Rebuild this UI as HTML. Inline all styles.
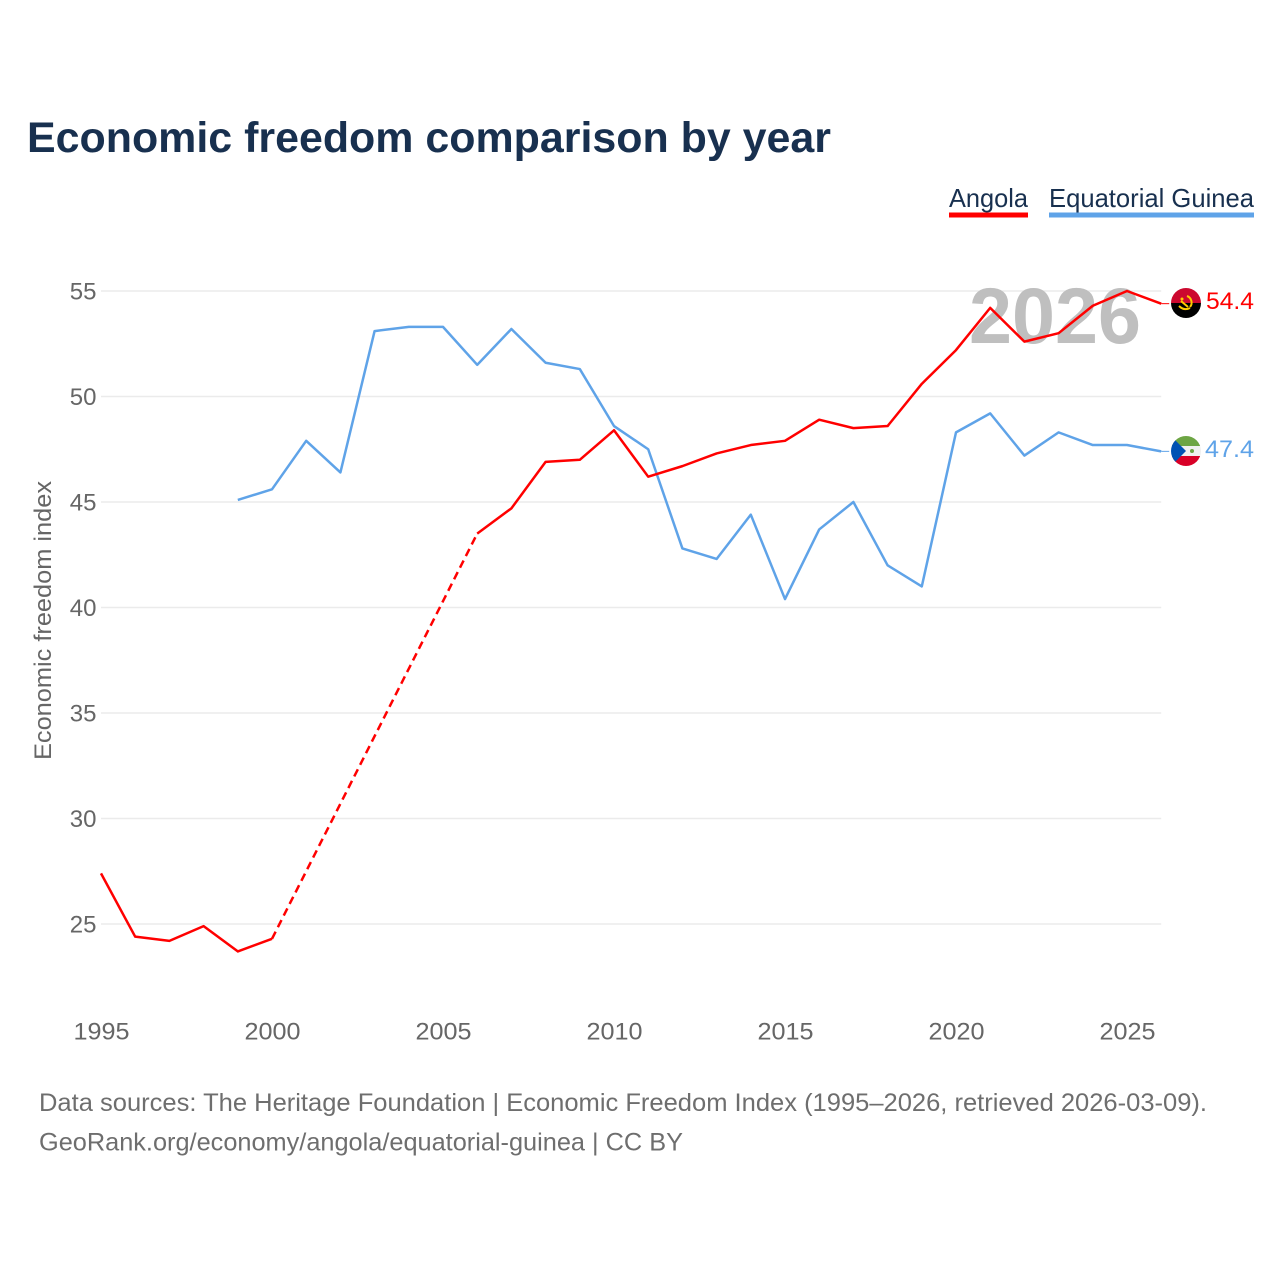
<!DOCTYPE html>
<html>
<head>
<meta charset="utf-8">
<title>Economic freedom comparison by year</title>
<style>
html,body{margin:0;padding:0;background:#fff;width:1280px;height:1280px;overflow:hidden}
svg{display:block;font-family:"Liberation Sans",sans-serif}
</style>
</head>
<body>
<svg id="chart" width="1280" height="1280" viewBox="0 0 1280 1280" xmlns="http://www.w3.org/2000/svg">
  <defs>
    <clipPath id="flag-clip-a"><circle cx="1186" cy="303" r="15"/></clipPath>
    <clipPath id="flag-clip-b"><circle cx="1186" cy="451" r="15"/></clipPath>
  </defs>
  <text x="27" y="152" font-size="43" font-weight="700" fill="#18304f" textLength="804" lengthAdjust="spacingAndGlyphs">Economic freedom comparison by year</text>

  <g>
    <g>
      <text x="949" y="207" font-size="26" fill="#18304f" textLength="79" lengthAdjust="spacingAndGlyphs">Angola</text>
      <rect x="949" y="212.5" width="79" height="5" fill="#ff0000"/>
    </g>
    <g>
      <text x="1049" y="207" font-size="26" fill="#18304f" textLength="205" lengthAdjust="spacingAndGlyphs">Equatorial Guinea</text>
      <rect x="1049" y="212.5" width="205" height="5" fill="#5fa3e8"/>
    </g>
  </g>

  <g id="grid"></g>
  <g id="yticks"></g>
  <g id="xticks"></g>

  <text x="969" y="343" font-size="79" font-weight="700" fill="#bfbfbf" textLength="172" lengthAdjust="spacingAndGlyphs">2026</text>

  <text transform="translate(51,620.5) rotate(-90)" text-anchor="middle" font-size="24" fill="#666666" textLength="279" lengthAdjust="spacingAndGlyphs">Economic freedom index</text>

  <g id="series"></g>

  <g clip-path="url(#flag-clip-a)">
    <rect x="1170" y="287" width="32" height="16" fill="#cc092f"/>
    <rect x="1170" y="303" width="32" height="16" fill="#000000"/>
    <path d="M1187 296a7 7 0 0 1 3 11M1179 306c3 3 7 4 11 2M1181 301l7 6" fill="none" stroke="#ffcb00" stroke-width="2"/>
    <circle cx="1182" cy="299" r="1.5" fill="#ffcb00"/>
  </g>
  <g clip-path="url(#flag-clip-b)">
    <rect x="1170" y="435" width="32" height="11" fill="#6da544"/>
    <rect x="1170" y="446" width="32" height="10" fill="#f0f0f0"/>
    <rect x="1170" y="456" width="32" height="11" fill="#d80027"/>
    <path d="M1170 435L1186 451L1170 467Z" fill="#0052b4"/>
    <circle cx="1192" cy="451" r="2" fill="#6da544"/>
  </g>

  <text x="1206" y="309" font-size="24.5" fill="#ff0000" textLength="48" lengthAdjust="spacingAndGlyphs">54.4</text>
  <text x="1205" y="457" font-size="24.5" fill="#5fa3e8" textLength="49" lengthAdjust="spacingAndGlyphs">47.4</text>

  <g>
    <text x="39" y="1111" font-size="25" fill="#6e6e6e" textLength="1168" lengthAdjust="spacingAndGlyphs">Data sources: The Heritage Foundation | Economic Freedom Index (1995–2026, retrieved 2026-03-09).</text>
    <text x="39" y="1150.5" font-size="25" fill="#6e6e6e" textLength="644" lengthAdjust="spacingAndGlyphs">GeoRank.org/economy/angola/equatorial-guinea | CC BY</text>
  </g>
</svg>
<script>
const years = [1995,1996,1997,1998,1999,2000,2001,2002,2003,2004,2005,2006,2007,2008,2009,2010,2011,2012,2013,2014,2015,2016,2017,2018,2019,2020,2021,2022,2023,2024,2025,2026];
const angolaValues = [27.4,24.4,24.2,24.9,23.7,24.3,null,null,null,null,null,43.5,44.7,46.9,47.0,48.4,46.2,46.7,47.3,47.7,47.9,48.9,48.5,48.6,50.6,52.2,54.2,52.6,53.0,54.3,55.0,54.4];
const guineaValues = [null,null,null,null,45.1,45.6,47.9,46.4,53.1,53.3,53.3,51.5,53.2,51.6,51.3,48.6,47.5,42.8,42.3,44.4,40.4,43.7,45.0,42.0,41.0,48.3,49.2,47.2,48.3,47.7,47.7,47.4];
const yTickValues = [25,30,35,40,45,50,55];
const xTickValues = [1995,2000,2005,2010,2015,2020,2025];

const NS = 'http://www.w3.org/2000/svg';
const xScale = function (year) { return 101 + (year - 1995) * 34.2; };
const yScale = function (value) { return 291 + (55 - value) * 21.1; };

function make(tag, parent) {
  const el = document.createElementNS(NS, tag);
  parent.appendChild(el);
  return el;
}

const grid = document.getElementById('grid');
const yticks = document.getElementById('yticks');
yTickValues.forEach(function (v) {
  const line = make('line', grid);
  
  
  line.setAttribute('x1', xScale(1995));
  line.setAttribute('x2', xScale(2026));
  line.setAttribute('y1', yScale(v));
  line.setAttribute('y2', yScale(v));
  line.setAttribute('stroke', '#ebebeb');
  line.setAttribute('stroke-width', '1.5');
  const label = make('text', yticks);
  
  
  label.setAttribute('x', 96.5);
  label.setAttribute('y', yScale(v) + 8.5);
  label.setAttribute('text-anchor', 'end');
  label.setAttribute('font-size', '24');
  label.setAttribute('fill', '#666666');
  label.textContent = v;
});

const xticks = document.getElementById('xticks');
xTickValues.forEach(function (y) {
  const label = make('text', xticks);
  
  
  label.setAttribute('x', xScale(y) + 0.5);
  label.setAttribute('y', 1039.5);
  label.setAttribute('text-anchor', 'middle');
  label.setAttribute('font-size', '24');
  label.setAttribute('fill', '#666666');
  label.setAttribute('textLength', '56');
  label.setAttribute('lengthAdjust', 'spacingAndGlyphs');
  label.textContent = y;
});

const seriesGroup = document.getElementById('series');

function drawSeries(values, color, key) {
  let current = [];
  let lastPoint = null;
  const flush = function () {
    if (current.length > 1) {
      const solid = make('polyline', seriesGroup);
      
      
      solid.setAttribute('points', current.join(' '));
      solid.setAttribute('fill', 'none');
      solid.setAttribute('stroke', color);
      solid.setAttribute('stroke-width', '2.5');
      solid.setAttribute('stroke-linejoin', 'round');
    }
    current = [];
  };
  let gap = false;
  values.forEach(function (v, i) {
    if (v === null) {
      if (current.length) { flush(); }
      gap = lastPoint !== null;
      return;
    }
    const pt = [xScale(years[i]), yScale(v)];
    if (gap) {
      const dashed = make('line', seriesGroup);
      
      
      dashed.setAttribute('x1', lastPoint[0]);
      dashed.setAttribute('y1', lastPoint[1]);
      dashed.setAttribute('x2', pt[0]);
      dashed.setAttribute('y2', pt[1]);
      dashed.setAttribute('stroke', color);
      dashed.setAttribute('stroke-width', '2.5');
      dashed.setAttribute('stroke-dasharray', '8 5');
      gap = false;
    }
    current.push(pt.join(','));
    lastPoint = pt;
  });
  flush();
  const connector = make('line', seriesGroup);
  
  
  connector.setAttribute('x1', lastPoint[0]);
  connector.setAttribute('y1', lastPoint[1]);
  connector.setAttribute('x2', lastPoint[0] + 8);
  connector.setAttribute('y2', lastPoint[1]);
  connector.setAttribute('stroke', color);
  connector.setAttribute('stroke-width', '1');
}

drawSeries(guineaValues, '#5fa3e8', 'equatorial-guinea');
drawSeries(angolaValues, '#ff0000', 'angola');
</script>
</body>
</html>
